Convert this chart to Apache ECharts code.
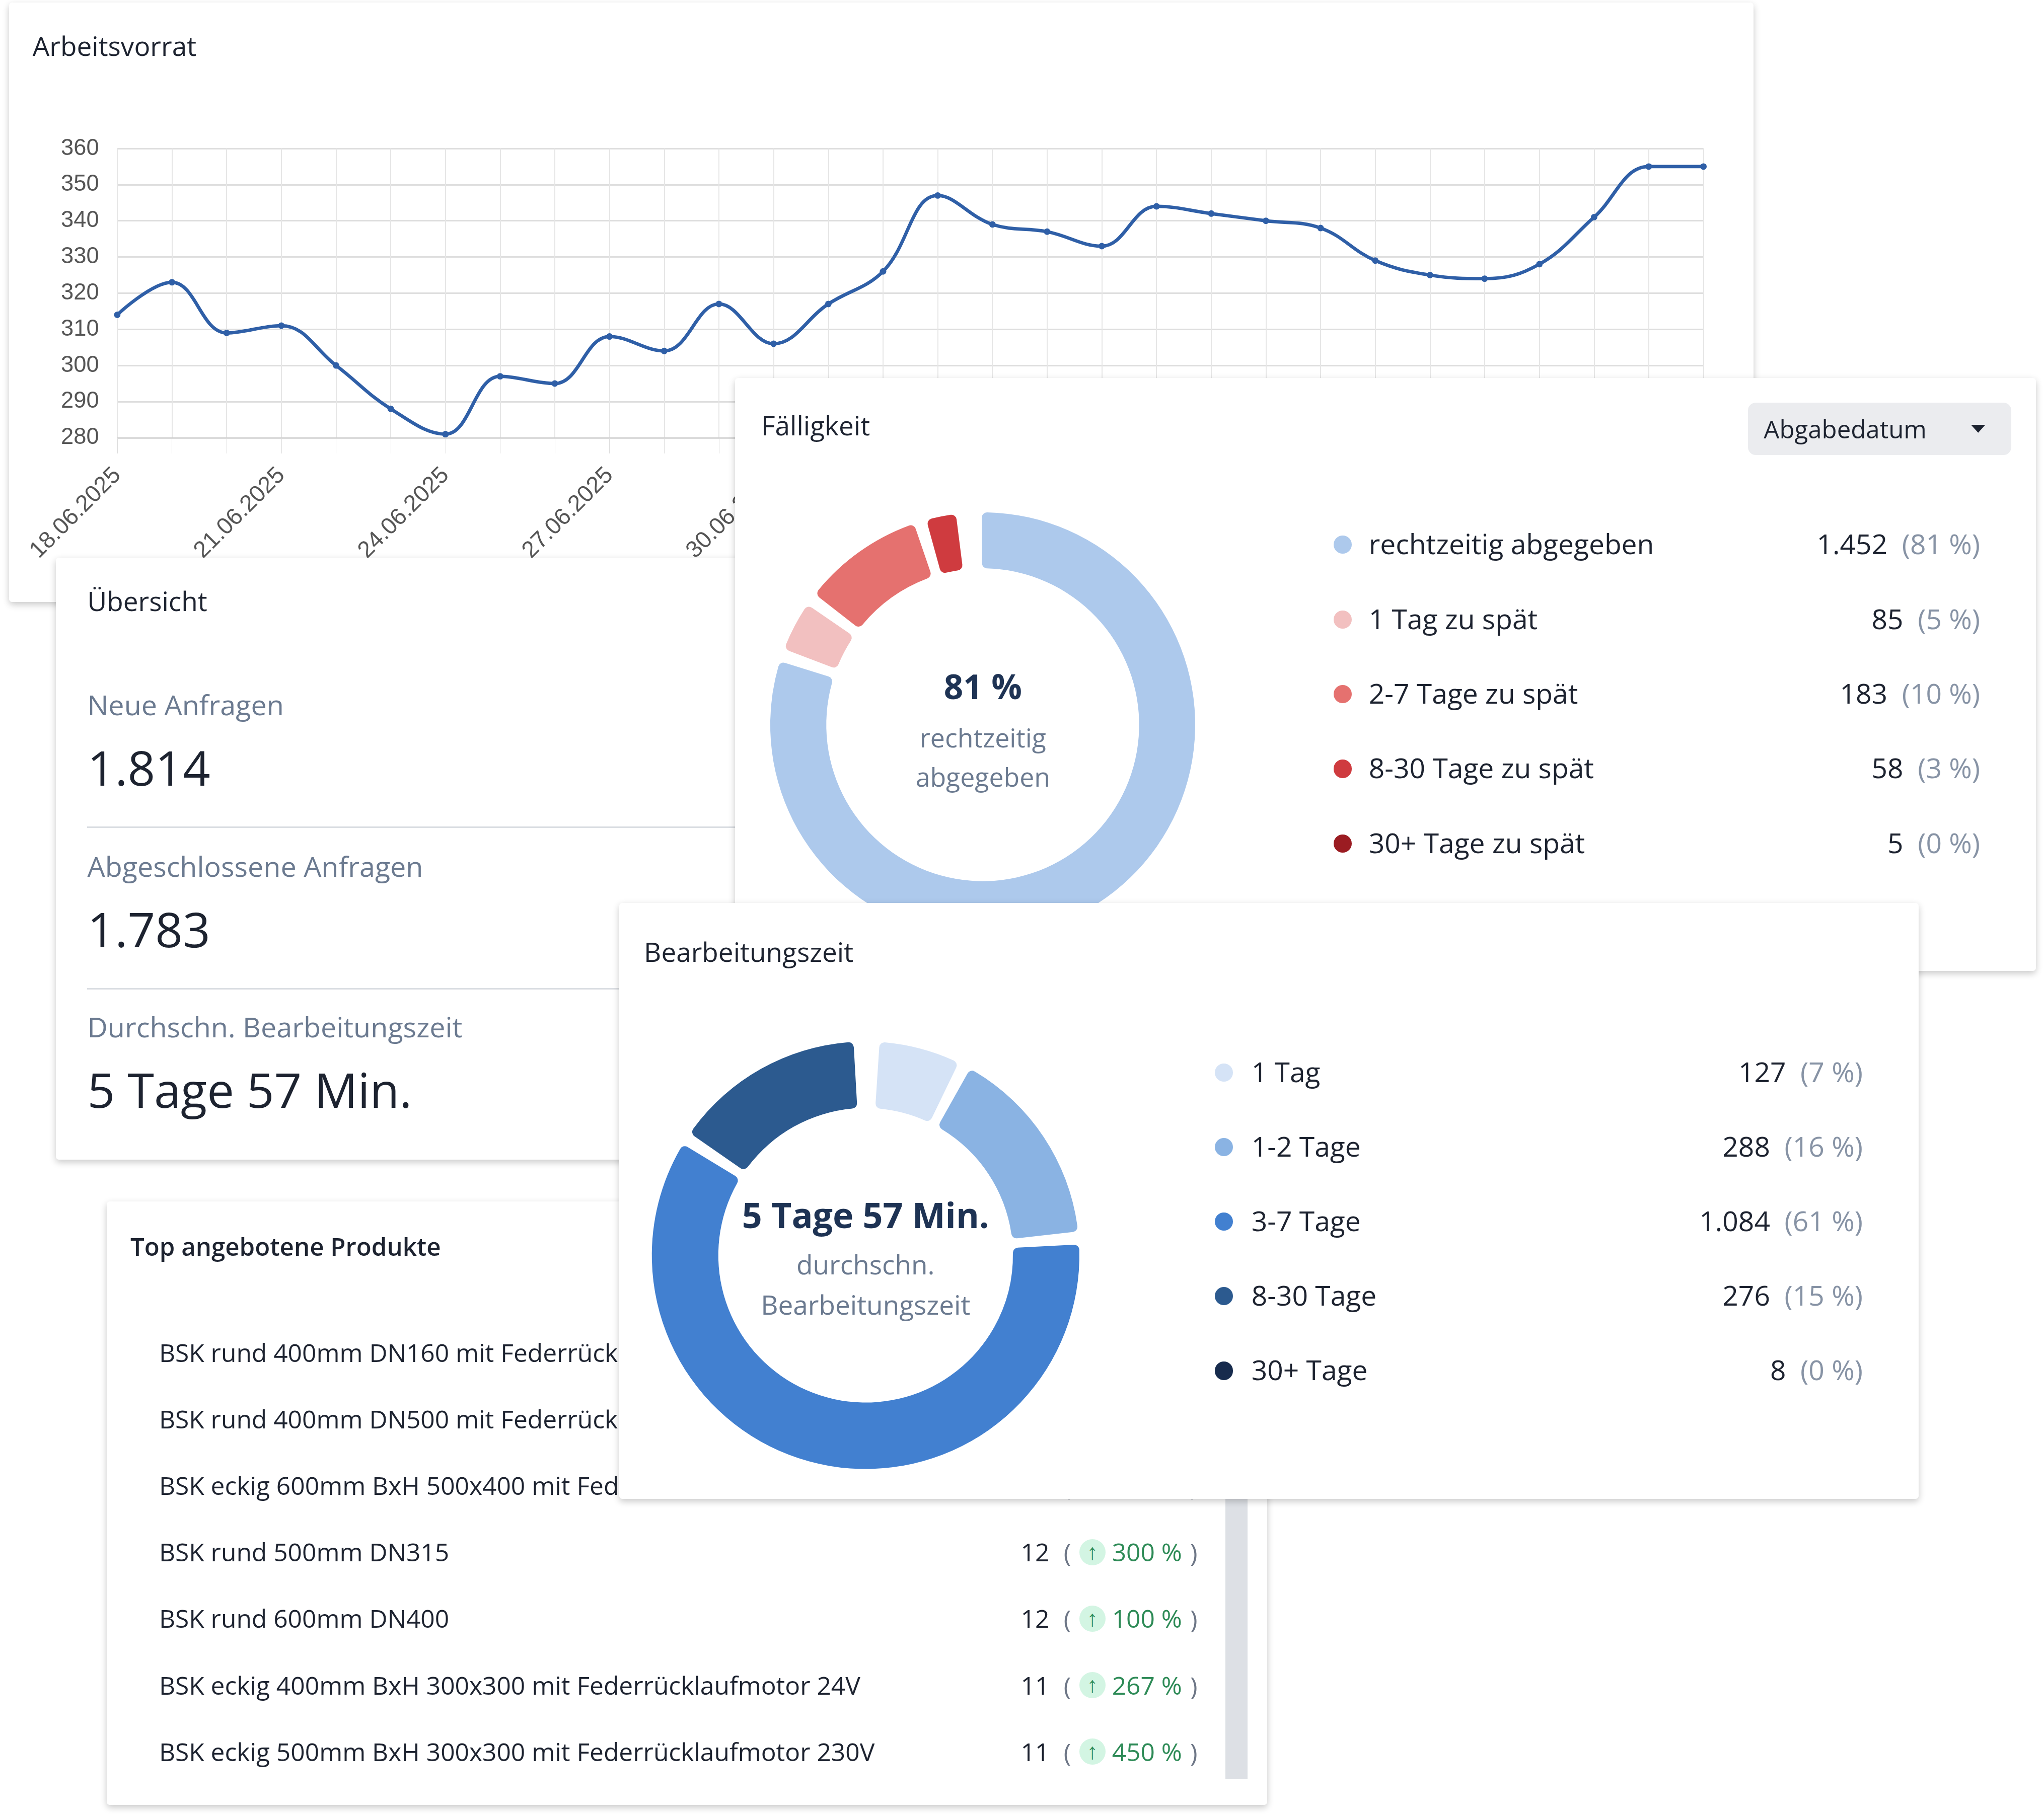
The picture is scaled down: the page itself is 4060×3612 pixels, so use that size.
<!DOCTYPE html>
<html>
<head>
<meta charset="utf-8">
<script src="https://cdn.jsdelivr.net/npm/echarts@6/dist/echarts.min.js"></script>
<style>
  html, body { margin: 0; padding: 0; background: #fff; width: 4060px; height: 3612px; overflow: hidden; font-family: 'Open Sans', 'Noto Sans', sans-serif; }
  .card { position: absolute; background: #fff; box-shadow: 0 5px 14px rgba(0,0,0,0.22); border-radius: 6px; }
  .t { position: absolute; white-space: nowrap; line-height: 1; }
  .ch { position: absolute; }
</style>
</head>
<body>
<div id="page"></div>
<script>
// --- data ---
const dates = ['18.06.2025','19.06.2025','20.06.2025','21.06.2025','22.06.2025','23.06.2025','24.06.2025','25.06.2025','26.06.2025','27.06.2025','28.06.2025','29.06.2025','30.06.2025','01.07.2025','02.07.2025','03.07.2025','04.07.2025','05.07.2025','06.07.2025','07.07.2025','08.07.2025','09.07.2025','10.07.2025','11.07.2025','12.07.2025','13.07.2025','14.07.2025','15.07.2025','16.07.2025','17.07.2025']
const vorrat = [314, 323, 309, 311, 300, 288, 281, 297, 295, 308, 304, 317, 306, 317, 326, 347, 339, 337, 333, 344, 342, 340, 338, 329, 325, 324, 328, 341, 355, 355]

const faelligNames = ['rechtzeitig abgegeben', '1 Tag zu spät', '2-7 Tage zu spät', '8-30 Tage zu spät', '30+ Tage zu spät']
const faelligValues = [1452, 85, 183, 58, 5]
const faelligPct = ['81 %', '5 %', '10 %', '3 %', '0 %']
const faelligColors = ['#adc9ec', '#f2c0c0', '#e5716f', '#cf3b3f', '#9b1c22']

const bearbNames = ['1 Tag', '1-2 Tage', '3-7 Tage', '8-30 Tage', '30+ Tage']
const bearbValues = [127, 288, 1084, 276, 8]
const bearbPct = ['7 %', '16 %', '61 %', '15 %', '0 %']
const bearbColors = ['#d5e3f6', '#8ab3e3', '#4280d0', '#2c5a8f', '#172b4d']

const produkte = ['BSK rund 400mm DN160 mit Federrücklaufmotor 230V', 'BSK rund 400mm DN500 mit Federrücklaufmotor 230V', 'BSK eckig 600mm BxH 500x400 mit Federrücklaufmotor 24V', 'BSK rund 500mm DN315', 'BSK rund 600mm DN400', 'BSK eckig 400mm BxH 300x300 mit Federrücklaufmotor 24V', 'BSK eckig 500mm BxH 300x300 mit Federrücklaufmotor 230V']
const produktAnzahl = [20, 18, 13, 12, 12, 11, 11]
const produktTrend = ['150 %', '125 %', '160 %', '300 %', '100 %', '267 %', '450 %']

// --- layout helpers (reference coords * S) ---
const S = 4060 / 1568
const page = document.getElementById('page')
const px = v => (v * S) + 'px'

function card (x, y, w, h, z) {
    const d = document.createElement('div')
    d.className = 'card'
    Object.assign(d.style, { left: px(x), top: px(y), width: px(w), height: px(h), zIndex: z })
    page.appendChild(d)
    return d
}
function txt (x, y, s, size, color, weight, align, z) {
    const d = document.createElement('div')
    d.className = 't'
    d.textContent = s
    const tx = align === 'right' ? '-100%' : align === 'center' ? '-50%' : '0'
    Object.assign(d.style, {
        left: px(x), top: px(y), fontSize: px(size), color: color, fontWeight: weight || 400,
        transform: 'translate(' + tx + ',-55%)', zIndex: z
    })
    page.appendChild(d)
    return d
}
function box (x, y, w, h, z, style) {
    const d = document.createElement('div')
    d.style.position = 'absolute'
    Object.assign(d.style, { left: px(x), top: px(y), width: px(w), height: px(h), zIndex: z }, style || {})
    page.appendChild(d)
    return d
}
function chartDiv (x, y, w, h, z) {
    const d = box(x, y, w, h, z)
    d.className = 'ch'
    return echarts.init(d)
}
// value + (pct) right-aligned at x
function valPct (x, y, v, p, z) {
    const d = txt(x, y, '', 21.3, dark, 400, 'right', z)
    d.innerHTML = v + '&nbsp;&nbsp;<span style="color:#8793a5">(' + p + ')</span>'
}

const dark = '#1d2330'
const gray = '#6b7a90'

// --- Arbeitsvorrat ---
card(7, 2, 1338, 460, 1)
txt(25, 36, 'Arbeitsvorrat', 20.5, dark, 400, 'left', 2)
const c1 = chartDiv(7, 2, 1338, 460, 2)
c1.setOption({
    animation: false,
    grid: { left: 83 * S, right: 38 * S, top: 112 * S, bottom: 126 * S },
    xAxis: {
        type: 'category',
        data: dates,
        boundaryGap: false,
        axisLine: { lineStyle: { color: '#cfcfcf', width: 2 } },
        axisTick: { show: true, length: 12 * S, interval: 0, lineStyle: { color: '#dcdcdc' } },
        splitLine: { show: true, interval: 0, lineStyle: { color: '#e6e6e6', width: 2 } },
        axisLabel: { interval: 2, rotate: 45, fontSize: 18 * S, color: '#555', fontFamily: 'Liberation Sans', margin: 26 * S }
    },
    yAxis: {
        type: 'value',
        min: 280,
        max: 360,
        interval: 10,
        axisLine: { show: false },
        axisTick: { show: false },
        splitLine: { lineStyle: { color: '#dedede', width: 3 } },
        axisLabel: { fontSize: 17.5 * S, color: '#555', fontFamily: 'Liberation Sans', margin: 14 * S }
    },
    series: [{
        type: 'line',
        data: vorrat,
        smooth: 0.4,
        symbol: 'circle',
        symbolSize: 5 * S,
        lineStyle: { color: '#2f5fa7', width: 2.6 * S },
        itemStyle: { color: '#2f5fa7' }
    }]
})

// --- Übersicht ---
card(43, 428, 560, 462, 3)
txt(67, 462, 'Übersicht', 20.5, dark, 400, 'left', 4)
const stats = [['Neue Anfragen', '1.814', 542], ['Abgeschlossene Anfragen', '1.783', 666], ['Durchschn. Bearbeitungszeit', '5 Tage 57 Min.', 789]]
stats.forEach((st, i) => {
    txt(67, st[2], st[0], 21.5, gray, 400, 'left', 4)
    txt(67, st[2] + 49, st[1], 37, dark, 400, 'left', 4)
    if (i < 2) box(67, st[2] + 92, 540, 1.2, 4, { background: '#dadde2' })
})

// --- Fälligkeit ---
card(564, 290, 998, 455, 5)
txt(584, 327, 'Fälligkeit', 20.5, dark, 400, 'left', 6)
box(1341, 309, 202, 40, 6, { background: '#ebecef', borderRadius: px(6) })
txt(1353, 330, 'Abgabedatum', 19, dark, 400, 'left', 6)
box(1512, 326, 11, 6, 6, { background: dark, clipPath: 'polygon(0 0,100% 0,50% 100%)' })
const c2 = chartDiv(564, 366, 380, 379, 6)
c2.setOption({
    animation: false,
    series: [{
        type: 'pie',
        center: [190 * S, 190 * S],
        radius: [120 * S, 163 * S],
        startAngle: 92,
        padAngle: 3.5,
        label: { show: false },
        itemStyle: { borderRadius: 4 * S },
        data: faelligValues.map((v, i) => ({ value: v, name: faelligNames[i], itemStyle: { color: faelligColors[i] } }))
    }]
})
txt(754, 528, '81 %', 26, '#1e3354', 700, 'center', 7)
txt(754, 567, 'rechtzeitig', 20, gray, 400, 'center', 7)
txt(754, 597, 'abgegeben', 20, gray, 400, 'center', 7)
faelligNames.forEach((n, i) => {
    const y = 418 + i * 57.3
    box(1023, y - 7, 14, 14, 7, { background: faelligColors[i], borderRadius: '50%' })
    txt(1050, y, n, 21.3, dark, 400, 'left', 7)
    valPct(1519, y, faelligValues[i].toLocaleString('de-DE'), faelligPct[i], 7)
})

// --- Top angebotene Produkte ---
card(82, 922, 890, 463, 3)
txt(100, 957, 'Top angebotene Produkte', 19, dark, 600, 'left', 4)
box(940, 1148, 17, 217, 4, { background: '#dde0e5' })
produkte.forEach((p, i) => {
    const y = 1039 + i * 51
    txt(122, y, p, 19.2, dark, 400, 'left', 4)
    txt(805, y, String(produktAnzahl[i]), 19.2, dark, 400, 'right', 4)
    txt(816, y, '(', 19, '#6d7686', 400, 'left', 4)
    box(828, y - 11, 20, 20, 4, { background: '#d3f5e3', borderRadius: '50%' })
    txt(838, y - 1, '↑', 17, '#2e8b57', 600, 'center', 4)
    txt(853, y, produktTrend[i], 19.2, '#2e8b57', 400, 'left', 4)
    txt(913, y, ')', 19, '#6d7686', 400, 'left', 4)
})

// --- Bearbeitungszeit ---
card(475, 693, 997, 457, 9)
txt(494, 731, 'Bearbeitungszeit', 20.5, dark, 400, 'left', 10)
const c3 = chartDiv(475, 773, 380, 377, 10)
c3.setOption({
    animation: false,
    series: [{
        type: 'pie',
        center: [189 * S, 190 * S],
        radius: [113 * S, 164 * S],
        startAngle: 88,
        padAngle: 3.5,
        label: { show: false },
        itemStyle: { borderRadius: 4 * S },
        data: bearbValues.map((v, i) => ({ value: v, name: bearbNames[i], itemStyle: { color: bearbColors[i] } }))
    }]
})
txt(664, 933, '5 Tage 57 Min.', 27, '#1e3354', 700, 'center', 11)
txt(664, 971, 'durchschn.', 20.5, gray, 400, 'center', 11)
txt(664, 1002, 'Bearbeitungszeit', 20.5, gray, 400, 'center', 11)
bearbNames.forEach((n, i) => {
    const y = 823 + i * 57.2
    box(932, y - 7, 14, 14, 11, { background: bearbColors[i], borderRadius: '50%' })
    txt(960, y, n, 21.3, dark, 400, 'left', 11)
    valPct(1429, y, bearbValues[i].toLocaleString('de-DE'), bearbPct[i], 11)
})
</script>
</body>
</html>
